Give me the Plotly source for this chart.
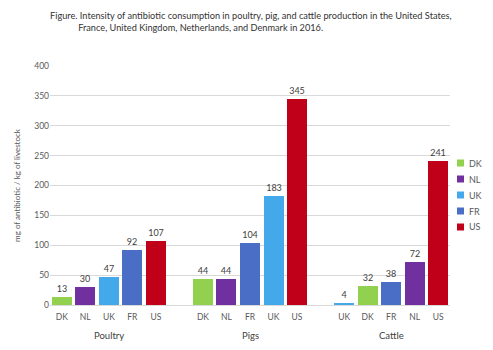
import plotly.graph_objects as go

groups = ["Poultry", "Pigs", "Cattle"]
countries = ["DK", "NL", "UK", "FR", "US"]
colors = {"DK": "#92D050", "NL": "#7030A0", "UK": "#44A9EA", "FR": "#4A6EC6", "US": "#C00018"}

poultry_order = ["DK", "NL", "UK", "FR", "US"]
poultry_vals = [13, 30, 47, 92, 107]
pigs_order = ["DK", "NL", "FR", "UK", "US"]
pigs_vals = [44, 44, 104, 183, 345]
cattle_order = ["UK", "DK", "FR", "NL", "US"]
cattle_vals = [4, 32, 38, 72, 241]

orders = [poultry_order, pigs_order, cattle_order]
vals = [poultry_vals, pigs_vals, cattle_vals]

font = "Lato, 'Open Sans', sans-serif"
fig = go.Figure()

tickvals, ticktext = [], []
for gi, (order, v) in enumerate(zip(orders, vals)):
    for ci, c in enumerate(order):
        tickvals.append(gi * 6 + ci)
        ticktext.append(c)

for c in countries:
    xs, ys = [], []
    for gi, (order, v) in enumerate(zip(orders, vals)):
        if c in order:
            i = order.index(c)
            xs.append(gi * 6 + i)
            ys.append(v[i])
    fig.add_trace(go.Bar(
        x=xs, y=ys, name=c, marker=dict(color=colors[c], line=dict(width=0)),
        width=0.85, text=[str(y) for y in ys], textposition="outside",
        textfont=dict(size=9, color="#404040", family=font), cliponaxis=False,
        showlegend=False,
    ))

for gi, g in enumerate(groups):
    fig.add_annotation(x=gi * 6 + 2, y=0, xref="x", yref="paper", yshift=-30,
                       text=g, showarrow=False, yanchor="middle",
                       font=dict(size=9.5, color="#404040", family=font))

# custom legend (compact spacing like the original)
plot_top, plot_bot, plot_l, plot_w = 66, 305, 50, 400
def py(p):
    return (plot_bot - p) / (plot_bot - plot_top)
def px(p):
    return (p - plot_l) / plot_w
for k, c in enumerate(countries):
    cy = 163 + k * 16
    fig.add_shape(type="rect", xref="paper", yref="paper",
                  x0=px(457), x1=px(464), y0=py(cy + 3.5), y1=py(cy - 3.5),
                  fillcolor=colors[c], line=dict(width=0))
    fig.add_annotation(x=px(467), y=py(cy), xref="paper", yref="paper",
                       xanchor="left", yanchor="middle", showarrow=False, text=c,
                       font=dict(size=9, color="#595959", family=font))

fig.add_annotation(x=-0.005, y=1, xref="paper", yref="paper", xanchor="left", yanchor="bottom",
                   yshift=31, align="left", showarrow=False,
                   text="Figure. Intensity of antibiotic consumption in poultry, pig, and cattle production in the United States,<br>"
                        "            France, United Kingdom, Netherlands, and Denmark in 2016.",
                   font=dict(size=9.2, color="#333333", family=font))

fig.update_layout(
    width=493, height=350,
    margin=dict(l=50, r=43, t=66, b=45),
    paper_bgcolor="white", plot_bgcolor="white",
    barmode="overlay", bargap=0,
    font=dict(family=font, size=9, color="#595959"),
    showlegend=False,
    xaxis=dict(range=[-0.5, 16.5], tickvals=tickvals, ticktext=ticktext,
               showgrid=False, zeroline=False, showline=True, linecolor="#D9D9D9",
               tickfont=dict(size=8.5, color="#595959"), ticks="outside",
               ticklen=4, tickcolor="rgba(0,0,0,0)"),
    yaxis=dict(range=[0, 400], dtick=50, showgrid=True, gridcolor="#D9D9D9",
               zeroline=False, tickfont=dict(size=8.5, color="#595959"), ticks="",
               title=dict(text="mg of antibiotic / kg of livestock",
                          font=dict(size=8, color="#595959"), standoff=12)),
)

fig.write_html("out.html")
